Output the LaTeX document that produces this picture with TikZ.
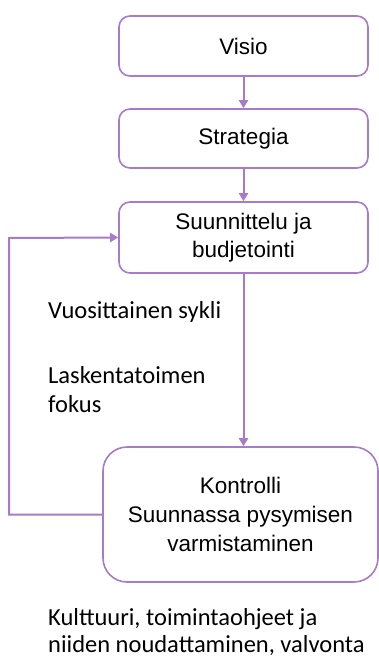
\documentclass[tikz,border=0pt]{standalone}
\usepackage{fontspec}
\setmainfont{Liberation Sans}
\newfontfamily\calfont{Carlito}
\usetikzlibrary{arrows.meta}
\definecolor{pur}{HTML}{A77BCA}
\begin{document}
\begin{tikzpicture}[x=1pt,y=-1pt,
  box/.style={draw=pur, line width=1.6pt, rounded corners=11pt, align=center,
    font=\fontsize{22.5}{28}\selectfont, inner sep=0pt, minimum width=249pt},
  bigbox/.style={box, rounded corners=24pt, minimum width=275pt, minimum height=135pt,
    font=\fontsize{22.5}{29}\selectfont},
  arr/.style={draw=pur, line width=2pt, -{Triangle[width=9pt,length=8pt]}},
  note/.style={anchor=base west, align=left, inner sep=0pt, font=\calfont\fontsize{24.5}{29}\selectfont}
]
\useasboundingbox (0,0) rectangle (379,658);
\node[box, minimum height=60pt] (visio) at (243.5,46) {Visio};
\node[box, minimum height=59pt] (strat) at (243.5,138.5) {Strategia};
\node[box, minimum height=71pt] (suun) at (243.5,237.5) {Suunnittelu ja\\budjetointi};
\node[bigbox] (kon) at (240.5,514.5) {Kontrolli\\Suunnassa pysymisen\\varmistaminen};
\coordinate (loop) at (9,238);
\draw[arr] (visio.south) -- (strat.north);
\draw[arr] (strat.south) -- (suun.north);
\draw[arr] (suun.south) -- (suun.south |- kon.north);
\draw[arr] (kon.west) -| (loop) -- (suun.west);
\node[note] (n1) at (48,318) {Vuosittainen sykli};
\node[note] (n2) at (48,412) {Laskentatoimen\\fokus};
\node[note, font=\calfont\fontsize{24.5}{27.5}\selectfont] (n3) at (48,652.5) {Kulttuuri, toimintaohjeet ja\\niiden noudattaminen, valvonta};
\end{tikzpicture}
\end{document}
